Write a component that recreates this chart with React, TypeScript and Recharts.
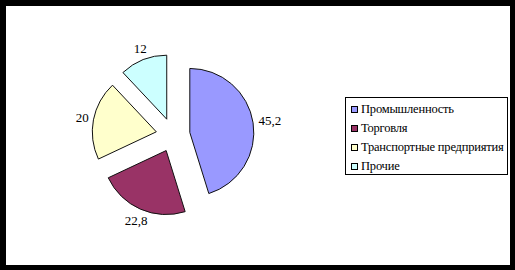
import { PieChart, Pie, Cell, Legend } from "recharts";

const categories = ["Промышленность", "Торговля", "Транспортные предприятия", "Прочие"];
const values = [45.2, 22.8, 20, 12];
const colors = ["#9999FF", "#993366", "#FFFFCC", "#CCFFFF"];

const data = categories.map((name, i) => ({ name, value: values[i] }));
const total = values.reduce((s, v) => s + v, 0);

const CX = 173;
const CY = 135;
const R = 64;
const EXPLODE = 17;
const FONT = "Liberation Serif";

// explode each slice along its own mid angle
const offsets = values.map((v, i) => {
  const before = values.slice(0, i).reduce((s, x) => s + x, 0);
  const mid = ((90 - (360 * (before + v / 2)) / total) * Math.PI) / 180;
  return { x: CX + EXPLODE * Math.cos(mid), y: CY - EXPLODE * Math.sin(mid) };
});

const fmt = (v: number) => String(v).replace(".", ",");

function makeLabel(only: number) {
  return (props: any) => {
    const { cx, cy, midAngle, outerRadius, index, value } = props;
    if (index !== only) return null;
    const rad = (-midAngle * Math.PI) / 180;
    const dx = Math.cos(rad);
    const dy = Math.sin(rad);
    const text = fmt(value);
    const w = text.length * 5.6;
    const h = 13;
    const px = cx + (outerRadius + 6) * dx + (dx * Math.abs(dx) * w) / 2;
    const py = cy + (outerRadius + 6) * dy + (dy * h) / 2;
    return (
      <text
        x={px}
        y={py}
        textAnchor="middle"
        dominantBaseline="central"
        fill="#000"
        style={{ fontFamily: FONT, fontSize: 13 }}
      >
        {text}
      </text>
    );
  };
}

function LegendBox() {
  return (
    <div
      style={{
        border: "1px solid #000",
        boxSizing: "border-box",
        width: 163,
        height: 78,
        padding: "2px 0 0 5px",
        background: "#fff",
        fontFamily: FONT,
        fontSize: 12.5,
        letterSpacing: -0.2,
        color: "#000",
        textAlign: "left",
        overflow: "visible",
      }}
    >
      {categories.map((c, i) => (
        <div key={c} style={{ display: "flex", alignItems: "center", height: 19, whiteSpace: "nowrap" }}>
          <span
            style={{
              width: 7,
              height: 7,
              flexShrink: 0,
              boxSizing: "border-box",
              border: "1px solid #000",
              background: colors[i],
              marginRight: 3,
              display: "inline-block",
            }}
          />
          <span>{c}</span>
        </div>
      ))}
    </div>
  );
}

export default function App() {
  return (
    <div style={{ position: "absolute", left: 0, top: 0, width: 515, height: 270, background: "#000" }}>
      <div style={{ position: "absolute", left: 6, top: 6, width: 504, height: 259, background: "#fff" }} />
      <div style={{ position: "absolute", left: 0, top: 0 }}>
        <PieChart width={515} height={270} margin={{ top: 0, right: 0, bottom: 0, left: 0 }}>
          {values.map((_, k) => (
            <Pie
              key={k}
              data={data}
              dataKey="value"
              nameKey="name"
              cx={offsets[k].x}
              cy={offsets[k].y}
              outerRadius={R}
              startAngle={90}
              endAngle={-270}
              isAnimationActive={false}
              labelLine={false}
              label={makeLabel(k)}
              legendType="none"
            >
              {data.map((d, i) => (
                <Cell
                  key={d.name}
                  fill={i === k ? colors[i] : "none"}
                  stroke={i === k ? "#111" : "none"}
                  strokeWidth={1}
                />
              ))}
            </Pie>
          ))}
          <Legend
            content={<LegendBox />}
            wrapperStyle={{ position: "absolute", left: 345, top: 97, width: 163, height: 78 }}
          />
        </PieChart>
      </div>
    </div>
  );
}
